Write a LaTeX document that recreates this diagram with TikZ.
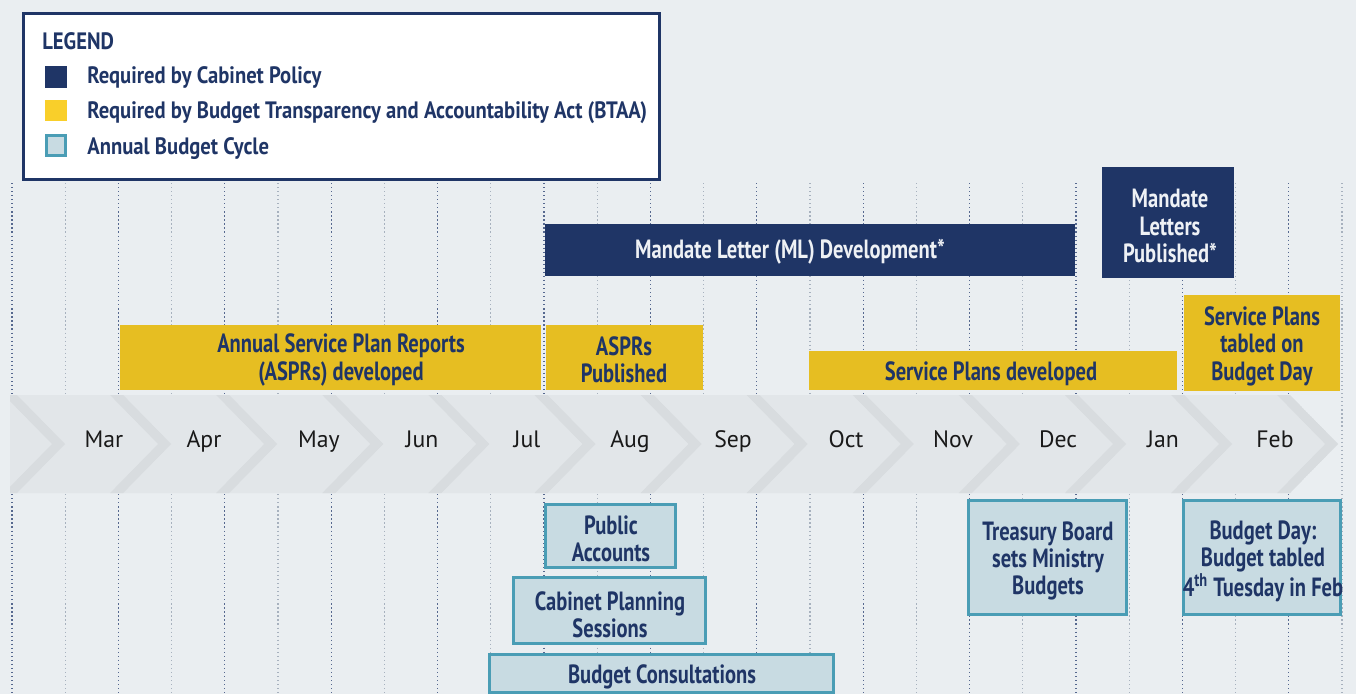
\documentclass[tikz,border=0pt]{standalone}
\usepackage{fontspec}
\usepackage{xcolor}
\usepackage{tikz}
\setmainfont{PT Sans}
\newfontfamily\condbold[FakeStretch=0.78]{PT Sans Bold}
\newfontfamily\legbold[FakeStretch=0.87]{PT Sans Bold}
\definecolor{cabinetcolor}{HTML}{1F3566}
\definecolor{btaacolor}{HTML}{E6BE22}
\definecolor{btaakey}{HTML}{F9CF2A}
\definecolor{cyclecolor}{HTML}{C8DBE2}
\definecolor{cycleedge}{HTML}{4A9DB5}
\definecolor{bgcolor}{HTML}{EAEEF1}
\definecolor{bandcolor}{HTML}{E2E6E9}
\definecolor{chevroncolor}{HTML}{D8DCDF}
\definecolor{griddark}{HTML}{56688F}
\definecolor{gridlight}{HTML}{A7B1BE}
\definecolor{lettercolor}{HTML}{EEF1F5}
\tikzset{
  bartext/.style={align=center, inner sep=0pt, yshift=-0.04cm, text=cabinetcolor, font=\condbold\fontsize{15pt}{15.6pt}\selectfont},
  lettertext/.style={bartext, text=lettercolor},
  cabinetbar/.style={fill=cabinetcolor},
  btaabar/.style={fill=btaacolor},
  cyclebar/.style={fill=cyclecolor, draw=cycleedge, line width=1.7pt},
  month/.style={anchor=base, inner sep=0pt, text=black!90, font=\fontsize{13.5pt}{16pt}\selectfont},
  legtext/.style={anchor=base west, inner sep=0pt, text=cabinetcolor, font=\legbold\fontsize{13.5pt}{15pt}\selectfont},
  gridline/.style={line width=0.7pt, dash pattern=on 0.7pt off 1.6pt},
}

\begin{document}
\begin{tikzpicture}[x=0.02cm, y=-0.02cm]%
\useasboundingbox (0,0) rectangle (1356,694);%
\fill[bgcolor] (0,0) rectangle (1356,694);%
% half-month grid
\foreach \k in {0,2,...,24} \draw[gridline, griddark] ({12+53.2*\k},183) -- ({12+53.2*\k},694);%
\foreach \k in {1,3,...,25} \draw[gridline, gridlight] ({12+53.2*\k},183) -- ({12+53.2*\k},694);%
% month band
\fill[bandcolor] (10,395) -- (1290,395) -- (1338,444) -- (1290,493) -- (10,493) -- cycle;%
\begin{scope}
\clip (10,395) -- (1290,395) -- (1338,444) -- (1290,493) -- (10,493) -- cycle;%
\foreach \k in {0,...,12}
  \fill[chevroncolor, shift={({65+106.1*\k},0)}] (-48,395) -- (0,444) -- (-48,493) -- (-61,493) -- (-13,444) -- (-61,395) -- cycle;%
\end{scope}
\foreach \m/\mx in {Mar/104, Apr/204, May/319, Jun/422, Jul/527, Aug/630, Sep/733, Oct/846, Nov/953, Dec/1058, Jan/1163, Feb/1275}
  \node[month] (m\m) at (\mx,447) {\m};%
% legend
\draw[fill=white, draw=cabinetcolor, line width=1.7pt] (23.5,13.5) rectangle (659.5,179.5);%
\node[legtext] (legend) at (42,49) {LEGEND};%
\fill[cabinetcolor] (45,66) rectangle (67,88);%
\node[legtext] (keycabinet) at (87,83) {Required by Cabinet Policy};%
\fill[btaakey] (45,100) rectangle (67,121);%
\node[legtext] (keybtaa) at (87,118) {Required by Budget Transparency and Accountability Act (BTAA)};%
\draw[cyclebar, line width=1.4pt] (46.5,135.5) rectangle (65.5,155.5);%
\node[legtext] (keycycle) at (87,154) {Annual Budget Cycle};%
% cabinet policy
\fill[cabinetbar] (545,224) rectangle (1075,276);%
\node[lettertext] (mldev) at (790,250) {Mandate Letter (ML) Development*};%
\fill[cabinetbar] (1102,167) rectangle (1234,278);%
\node[lettertext] (mlpub) at (1170,224) {Mandate\\Letters\\Published*};%
% BTAA
\fill[btaabar] (120,325) rectangle (541,390);%
\node[bartext] (asprdev) at (341,358) {Annual Service Plan Reports\\(ASPRs) developed};%
\fill[btaabar] (546,325) rectangle (703,390);%
\node[bartext] (asprpub) at (624,358) {ASPRs\\Published};%
\fill[btaabar] (809,351) rectangle (1177,390);%
\node[bartext] (spdev) at (991,372) {Service Plans developed};%
\fill[btaabar] (1184,295) rectangle (1340,391);%
\node[bartext] (sptabled) at (1262,344) {Service Plans\\tabled on\\Budget Day};%
% budget cycle
\draw[cyclebar] (545.5,504.5) rectangle (675.5,567.5);%
\node[bartext] (pubacc) at (611,537) {Public\\Accounts};%
\draw[cyclebar] (513.5,577.5) rectangle (705.5,643.5);%
\node[bartext] (cabplan) at (610,613) {Cabinet Planning\\Sessions};%
\draw[cyclebar] (489.5,654.5) rectangle (833.5,692.5);%
\node[bartext] (budcons) at (662,675) {Budget Consultations};%
\draw[cyclebar] (968.5,500.5) rectangle (1126.5,614.5);%
\node[bartext] (treasury) at (1048,559) {Treasury Board\\sets Ministry\\Budgets};%
\draw[cyclebar] (1183.5,500.5) rectangle (1340.5,614.5);%
\node[bartext] (budday) at (1263,559) {Budget Day:\\Budget tabled\\4\textsuperscript{th} Tuesday in Feb};%
\end{tikzpicture}
\end{document}
